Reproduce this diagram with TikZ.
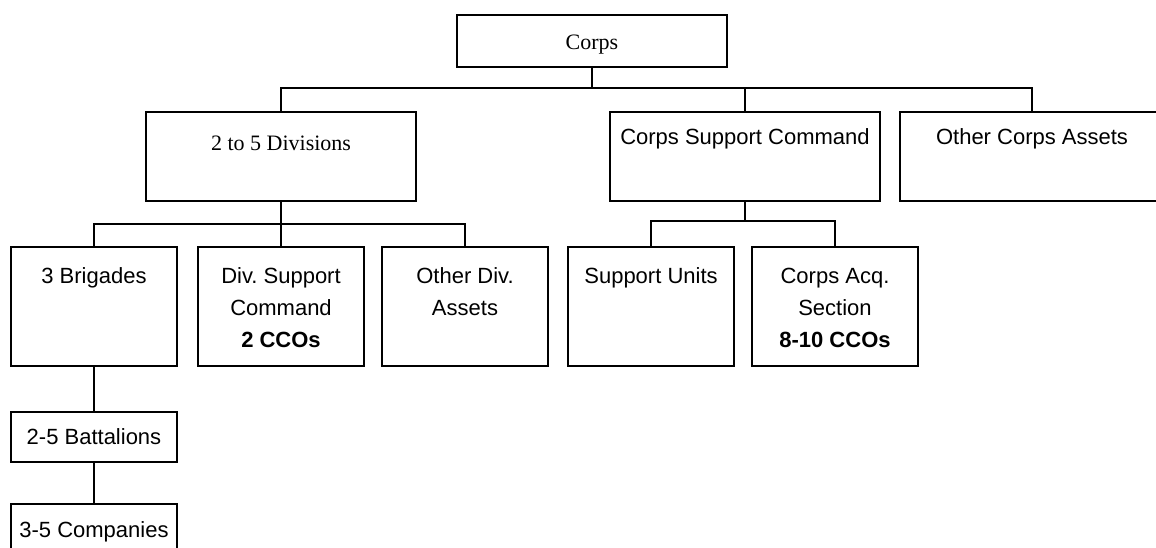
\documentclass[tikz,border=0pt]{standalone}
\usepackage{fontspec}
\setmainfont{Liberation Sans}
\newfontfamily\timesfont{Liberation Serif}
\usetikzlibrary{positioning}
\frenchspacing

\begin{document}
\begin{tikzpicture}[
		x=1pt, y=-1pt,
		box/.style={draw, line width=2.2pt, anchor=north, inner xsep=0pt, inner ysep=0pt, align=center, font=\fontsize{22}{32}\selectfont},
		wide/.style={box, minimum width=270pt},
		unit/.style={box, minimum width=166pt, text height=36pt, text depth=83pt},
		twolines/.style={text height=68pt, text depth=51pt},
		threelines/.style={text height=100pt, text depth=19pt},
		serif/.style={font=\timesfont\fontsize{22}{32}\selectfont},
		line/.style={line width=2.2pt}
	]
	\useasboundingbox (0,0) rectangle (1156,548);

	\node[wide, serif, text height=34pt, text depth=18pt] (corps) at (592,14) {Corps};

	\node[wide, serif, text height=38pt, text depth=51pt] (div) at (281,111) {2 to 5 Divisions};
	\node[wide, text height=32pt, text depth=57pt] (csc) at (745,111) {Corps Support Command};
	\node[wide, minimum width=264pt, text height=32pt, text depth=57pt] (oca) at (1032,111) {Other Corps Assets};

	\node[unit] (brig) at (94,246) {3 Brigades};
	\node[unit, threelines] (dsc) at (281,246) {Div. Support\\Command\\\textbf{2 CCOs}};
	\node[unit, twolines] (odiv) at (465,246) {Other Div.\\Assets};
	\node[unit] (sup) at (651,246) {Support Units};
	\node[unit, threelines] (acq) at (835,246) {Corps Acq.\\Section\\\textbf{8-10 CCOs}};

	\node[unit, text height=32pt, text depth=18pt] (bat) at (94,411) {2-5 Battalions};
	\node[unit, text height=33pt, text depth=20pt] (comp) at (94,503) {3-5 Companies};

	\coordinate (corpsbus) at (592,88);
	\coordinate (divbus) at (281,224);
	\coordinate (cscbus) at (745,221);

	\draw[line] (corps.south) -- (corpsbus);
	\draw[line] (div.north) |- (corpsbus) -| (oca.north);
	\draw[line] (csc.north) -- (csc.north |- corpsbus);
	\draw[line] (div.south) -- (dsc.north);
	\draw[line] (brig.north) |- (divbus) -| (odiv.north);
	\draw[line] (csc.south) -- (cscbus);
	\draw[line] (sup.north) |- (cscbus) -| (acq.north);
	\draw[line] (brig.south) -- (bat.north);
	\draw[line] (bat.south) -- (comp.north);

\end{tikzpicture}
\end{document}
